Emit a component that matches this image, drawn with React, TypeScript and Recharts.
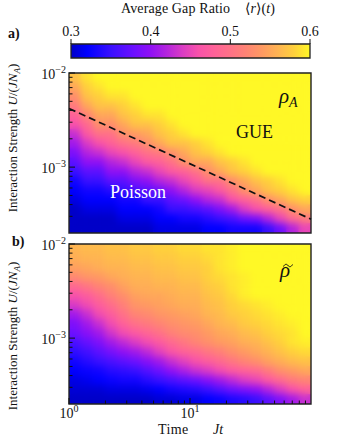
import React from 'react';
import { ComposedChart, XAxis, YAxis, ReferenceArea, ReferenceLine } from 'recharts';

const SERIF = "'Liberation Serif', 'DejaVu Serif', serif";
const INK = '#111111';
const FONT_STYLE: React.CSSProperties = { fontFamily: SERIF };

// ---- grid (bin edges, as decimal exponents) ----
const TIME_EXPONENTS = [0, 0.1, 0.2, 0.3, 0.4, 0.5, 0.6, 0.7, 0.8, 0.9, 1.0, 1.1, 1.2, 1.3, 1.4, 1.5, 1.6, 1.7, 1.8, 1.9, 2.0];
const U_EXPONENTS = [-2.0, -2.1, -2.2, -2.3, -2.4, -2.5, -2.6, -2.7, -2.8, -2.9, -3.0, -3.1, -3.2, -3.3, -3.4, -3.5, -3.6, -3.7];

// ---- tick values ----
const TIME_TICKS = [1, 2, 3, 4, 5, 6, 7, 8, 9, 10, 20, 30, 40, 50, 60, 70, 80, 90];
const U_TICKS = [3e-4, 4e-4, 5e-4, 6e-4, 7e-4, 8e-4, 9e-4, 1e-3, 2e-3, 3e-3, 4e-3, 5e-3, 6e-3, 7e-3, 8e-3, 9e-3, 1e-2];
const CBAR_TICKS = [0.3, 0.4, 0.5, 0.6];

// ---- dashed crossover line (panel a) ----
const BOUNDARY_T = [1, 100];
const BOUNDARY_U = [4.2e-3, 2.8e-4];

// ---- average gap ratio, panel a (rho_A): one array per time bin, U from high to low ----
const RHO_A: number[][] = [
  [0.57, 0.55, 0.53, 0.51, 0.48, 0.46, 0.43, 0.41, 0.39, 0.37, 0.35, 0.33, 0.32, 0.31, 0.30, 0.30, 0.30],
  [0.59, 0.58, 0.57, 0.55, 0.52, 0.49, 0.47, 0.44, 0.42, 0.40, 0.37, 0.35, 0.33, 0.32, 0.31, 0.30, 0.30],
  [0.60, 0.59, 0.58, 0.57, 0.55, 0.53, 0.50, 0.46, 0.43, 0.40, 0.37, 0.35, 0.33, 0.32, 0.31, 0.30, 0.30],
  [0.60, 0.60, 0.59, 0.57, 0.55, 0.53, 0.50, 0.48, 0.45, 0.42, 0.40, 0.37, 0.34, 0.32, 0.31, 0.30, 0.30],
  [0.60, 0.60, 0.59, 0.58, 0.57, 0.55, 0.53, 0.50, 0.46, 0.43, 0.40, 0.37, 0.35, 0.33, 0.32, 0.31, 0.30],
  [0.60, 0.60, 0.60, 0.59, 0.58, 0.57, 0.54, 0.51, 0.48, 0.45, 0.42, 0.39, 0.36, 0.33, 0.32, 0.31, 0.30],
  [0.60, 0.60, 0.60, 0.60, 0.59, 0.57, 0.55, 0.53, 0.50, 0.47, 0.43, 0.40, 0.37, 0.35, 0.32, 0.31, 0.30],
  [0.60, 0.60, 0.60, 0.60, 0.59, 0.58, 0.57, 0.55, 0.51, 0.48, 0.45, 0.42, 0.38, 0.35, 0.33, 0.32, 0.31],
  [0.60, 0.60, 0.60, 0.60, 0.60, 0.59, 0.58, 0.57, 0.53, 0.50, 0.47, 0.43, 0.40, 0.37, 0.35, 0.32, 0.31],
  [0.60, 0.60, 0.60, 0.60, 0.60, 0.60, 0.59, 0.57, 0.55, 0.53, 0.48, 0.45, 0.42, 0.38, 0.35, 0.33, 0.31],
  [0.60, 0.60, 0.60, 0.60, 0.60, 0.60, 0.60, 0.58, 0.57, 0.55, 0.50, 0.47, 0.44, 0.40, 0.36, 0.33, 0.31],
  [0.60, 0.60, 0.60, 0.60, 0.60, 0.60, 0.60, 0.59, 0.58, 0.55, 0.53, 0.50, 0.45, 0.42, 0.37, 0.34, 0.32],
  [0.60, 0.60, 0.60, 0.60, 0.60, 0.60, 0.60, 0.60, 0.59, 0.57, 0.55, 0.50, 0.47, 0.43, 0.39, 0.35, 0.32],
  [0.60, 0.60, 0.60, 0.60, 0.60, 0.60, 0.60, 0.60, 0.60, 0.58, 0.57, 0.53, 0.50, 0.46, 0.41, 0.36, 0.33],
  [0.60, 0.60, 0.60, 0.60, 0.60, 0.60, 0.60, 0.60, 0.60, 0.59, 0.58, 0.55, 0.53, 0.48, 0.44, 0.38, 0.33],
  [0.60, 0.60, 0.60, 0.60, 0.60, 0.60, 0.60, 0.60, 0.60, 0.60, 0.59, 0.57, 0.55, 0.50, 0.46, 0.39, 0.33],
  [0.60, 0.60, 0.60, 0.60, 0.60, 0.60, 0.60, 0.60, 0.60, 0.60, 0.60, 0.58, 0.57, 0.53, 0.48, 0.42, 0.35],
  [0.60, 0.60, 0.60, 0.60, 0.60, 0.60, 0.60, 0.60, 0.60, 0.60, 0.60, 0.59, 0.58, 0.55, 0.50, 0.45, 0.38],
  [0.60, 0.60, 0.60, 0.60, 0.60, 0.60, 0.60, 0.60, 0.60, 0.60, 0.60, 0.60, 0.59, 0.57, 0.53, 0.49, 0.42],
  [0.60, 0.60, 0.60, 0.60, 0.60, 0.60, 0.60, 0.60, 0.60, 0.60, 0.60, 0.60, 0.60, 0.58, 0.55, 0.51, 0.45],
];

// ---- average gap ratio, panel b (rho tilde) ----
const RHO_TILDE: number[][] = [
  [0.56, 0.555, 0.545, 0.525, 0.49, 0.46, 0.44, 0.41, 0.39, 0.38, 0.36, 0.345, 0.33, 0.32, 0.31, 0.305, 0.30],
  [0.565, 0.56, 0.55, 0.535, 0.505, 0.475, 0.455, 0.43, 0.41, 0.395, 0.375, 0.355, 0.34, 0.325, 0.315, 0.305, 0.30],
  [0.565, 0.56, 0.555, 0.54, 0.52, 0.495, 0.475, 0.455, 0.43, 0.41, 0.39, 0.37, 0.35, 0.33, 0.32, 0.305, 0.30],
  [0.57, 0.565, 0.56, 0.55, 0.53, 0.515, 0.495, 0.475, 0.455, 0.435, 0.41, 0.385, 0.36, 0.34, 0.325, 0.31, 0.30],
  [0.57, 0.565, 0.56, 0.555, 0.545, 0.53, 0.515, 0.50, 0.48, 0.455, 0.425, 0.40, 0.37, 0.345, 0.33, 0.31, 0.30],
  [0.575, 0.57, 0.565, 0.56, 0.555, 0.545, 0.535, 0.52, 0.50, 0.47, 0.44, 0.41, 0.38, 0.35, 0.33, 0.31, 0.30],
  [0.575, 0.57, 0.565, 0.56, 0.555, 0.55, 0.54, 0.525, 0.51, 0.485, 0.455, 0.425, 0.395, 0.365, 0.34, 0.315, 0.30],
  [0.58, 0.575, 0.57, 0.565, 0.56, 0.55, 0.545, 0.535, 0.52, 0.50, 0.47, 0.445, 0.41, 0.38, 0.35, 0.32, 0.305],
  [0.58, 0.575, 0.57, 0.565, 0.56, 0.555, 0.55, 0.54, 0.53, 0.515, 0.49, 0.465, 0.43, 0.40, 0.36, 0.33, 0.305],
  [0.585, 0.58, 0.575, 0.57, 0.565, 0.56, 0.555, 0.545, 0.535, 0.525, 0.505, 0.48, 0.445, 0.415, 0.37, 0.335, 0.31],
  [0.585, 0.58, 0.575, 0.57, 0.565, 0.56, 0.555, 0.55, 0.54, 0.53, 0.52, 0.49, 0.46, 0.43, 0.38, 0.34, 0.31],
  [0.59, 0.585, 0.58, 0.58, 0.575, 0.57, 0.565, 0.56, 0.55, 0.54, 0.53, 0.505, 0.475, 0.44, 0.395, 0.35, 0.32],
  [0.59, 0.59, 0.59, 0.585, 0.58, 0.575, 0.57, 0.565, 0.56, 0.55, 0.54, 0.515, 0.49, 0.455, 0.41, 0.365, 0.325],
  [0.595, 0.595, 0.595, 0.59, 0.59, 0.585, 0.58, 0.575, 0.565, 0.555, 0.545, 0.53, 0.505, 0.47, 0.425, 0.38, 0.335],
  [0.60, 0.60, 0.60, 0.595, 0.595, 0.595, 0.585, 0.58, 0.575, 0.565, 0.555, 0.54, 0.52, 0.48, 0.44, 0.39, 0.34],
  [0.60, 0.60, 0.60, 0.60, 0.60, 0.60, 0.59, 0.585, 0.58, 0.57, 0.56, 0.55, 0.53, 0.49, 0.45, 0.40, 0.35],
  [0.60, 0.60, 0.60, 0.60, 0.60, 0.60, 0.595, 0.59, 0.585, 0.58, 0.57, 0.56, 0.545, 0.51, 0.47, 0.42, 0.37],
  [0.60, 0.60, 0.60, 0.60, 0.60, 0.60, 0.60, 0.595, 0.59, 0.585, 0.58, 0.57, 0.555, 0.53, 0.49, 0.44, 0.39],
  [0.60, 0.60, 0.60, 0.60, 0.60, 0.60, 0.60, 0.60, 0.595, 0.59, 0.59, 0.58, 0.565, 0.54, 0.51, 0.46, 0.41],
  [0.60, 0.60, 0.60, 0.60, 0.60, 0.60, 0.60, 0.60, 0.60, 0.60, 0.595, 0.585, 0.57, 0.55, 0.52, 0.48, 0.43],
];

// ---- colour map ----
const CBAR_MIN = 0.3;
const CBAR_MAX = 0.6;
const CMAP: [number, string][] = [
  [0.30, '#0000c8'], [0.32, '#0000ff'], [0.35, '#3a10ff'], [0.38, '#6e10ff'], [0.40, '#9010f4'],
  [0.42, '#b424de'], [0.44, '#da3cc4'], [0.46, '#f852aa'], [0.48, '#ff6298'], [0.50, '#ff7287'],
  [0.52, '#ff8474'], [0.54, '#ff9a62'], [0.56, '#ffb452'], [0.58, '#ffd03c'], [0.60, '#fff826'],
];

const hex = (h: string) => [1, 3, 5].map((k) => parseInt(h.slice(k, k + 2), 16));
function colorFor(v: number): string {
  const c = Math.max(CBAR_MIN, Math.min(CBAR_MAX, v));
  for (let k = 0; k < CMAP.length - 1; k++) {
    const [v0, h0] = CMAP[k];
    const [v1, h1] = CMAP[k + 1];
    if (c <= v1 + 1e-9) {
      const f = (c - v0) / (v1 - v0);
      const a = hex(h0), b = hex(h1);
      const m = a.map((x, i) => Math.round(x + (b[i] - x) * f));
      return `rgb(${m[0]},${m[1]},${m[2]})`;
    }
  }
  return CMAP[CMAP.length - 1][1];
}

const TIME_EDGES = TIME_EXPONENTS.map((e) => Math.pow(10, e));
const U_EDGES = U_EXPONENTS.map((e) => Math.pow(10, e));
const T_DOMAIN: [number, number] = [TIME_EDGES[0], TIME_EDGES[TIME_EDGES.length - 1]];
const U_DOMAIN: [number, number] = [U_EDGES[U_EDGES.length - 1], U_EDGES[0]];

const isDecade = (v: number) => Math.abs(Math.log10(v) - Math.round(Math.log10(v))) < 1e-6;
const expText = (v: number) => {
  const e = Math.round(Math.log10(v));
  return e < 0 ? `\u2212${-e}` : `${e}`;
};

const makeXTick = (showLabel: boolean) => (props: any) => {
  const { x, y, payload } = props;
  const major = isDecade(payload.value);
  return (
    <g>
      <line x1={x} x2={x} y1={y} y2={y - (major ? 6 : 3.5)} stroke={INK} strokeWidth={1} />
      {showLabel && major && (
        <text x={x} y={y + 14} textAnchor="middle" style={FONT_STYLE} fontSize={14} fill={INK}>
          10<tspan dy={-6} fontSize={10}>{expText(payload.value)}</tspan>
        </text>
      )}
    </g>
  );
};

const YTick = (props: any) => {
  const { x, y, payload } = props;
  const major = isDecade(payload.value);
  return (
    <g>
      <line x1={x} x2={x + (major ? 6 : 3.5)} y1={y} y2={y} stroke={INK} strokeWidth={1} />
      {major && (
        <text x={x - 3} y={y + 6} textAnchor="end" style={FONT_STYLE} fontSize={14} fill={INK}>
          10<tspan dy={-6} fontSize={10}>{expText(payload.value)}</tspan>
        </text>
      )}
    </g>
  );
};

const CbarTick = (props: any) => {
  const { x, y, payload } = props;
  return (
    <g>
      <line x1={x} x2={x} y1={y} y2={y - 5} stroke={INK} strokeWidth={1} />
      <text x={x} y={y - 8} textAnchor="middle" style={FONT_STYLE} fontSize={14} fill={INK}>
        {Number(payload.value).toFixed(1)}
      </text>
    </g>
  );
};

// heat cells only, chart area == plot area
function HeatCells({ cols, width, height }: any) {
  return (
    <ComposedChart width={width} height={height} margin={{ top: 0, right: 0, bottom: 0, left: 0 }}>
      <XAxis type="number" scale="log" dataKey="t" domain={T_DOMAIN} allowDataOverflow hide />
      <YAxis type="number" scale="log" dataKey="u" domain={U_DOMAIN} allowDataOverflow hide />
      {cols.map((col: number[], i: number) =>
        col.map((v: number, j: number) => {
          const c = colorFor(v);
          return (
            <ReferenceArea
              key={`c${i}-${j}`}
              x1={TIME_EDGES[i]}
              x2={TIME_EDGES[i + 1]}
              y1={U_EDGES[j + 1]}
              y2={U_EDGES[j]}
              fill={c}
              fillOpacity={1}
              stroke={c}
              strokeWidth={0.8}
              ifOverflow="visible"
            />
          );
        })
      )}
    </ComposedChart>
  );
}

function HeatLayer({ cols, left, top, width, height }: any) {
  return (
    <div style={{ position: 'absolute', left, top, width, height, overflow: 'hidden' }}>
      <div style={{ position: 'absolute', left: 0, top: 0 }}>
        <HeatCells cols={cols} width={width} height={height} />
      </div>
      <div style={{ position: 'absolute', left: 0, top: 0, filter: 'blur(3.5px)' }}>
        <HeatCells cols={cols} width={width} height={height} />
      </div>
    </div>
  );
}

// axes, frame and overlay line
function Frame({ height, margin, xAxisHeight, showXLabels, boundary }: any) {
  return (
    <ComposedChart width={337} height={height} margin={margin}>
      <XAxis
        type="number"
        scale="log"
        dataKey="t"
        domain={T_DOMAIN}
        ticks={TIME_TICKS}
        interval={0}
        allowDataOverflow
        height={xAxisHeight}
        axisLine={false}
        tickLine={false}
        tickSize={0}
        tickMargin={0}
        tick={makeXTick(showXLabels)}
      />
      <YAxis
        type="number"
        scale="log"
        dataKey="u"
        domain={U_DOMAIN}
        ticks={U_TICKS}
        interval={0}
        allowDataOverflow
        width={69}
        axisLine={false}
        tickLine={false}
        tickSize={0}
        tickMargin={0}
        tick={YTick}
      />
      {boundary && (
        <ReferenceLine
          segment={[
            { x: BOUNDARY_T[0], y: BOUNDARY_U[0] },
            { x: BOUNDARY_T[1], y: BOUNDARY_U[1] },
          ]}
          stroke={INK}
          strokeWidth={1.7}
          strokeDasharray="7 4"
          ifOverflow="visible"
        />
      )}
      <ReferenceArea
        x1={T_DOMAIN[0]}
        x2={T_DOMAIN[1]}
        y1={U_DOMAIN[0]}
        y2={U_DOMAIN[1]}
        fill="none"
        fillOpacity={0}
        stroke="#222"
        strokeWidth={1.4}
        ifOverflow="visible"
      />
    </ComposedChart>
  );
}

function ColorBar() {
  return (
    <ComposedChart width={337} height={62} margin={{ top: 0, right: 27, bottom: 4, left: 71 }}>
      <XAxis
        type="number"
        dataKey="v"
        orientation="top"
        domain={[CBAR_MIN, CBAR_MAX]}
        allowDataOverflow
        ticks={CBAR_TICKS}
        interval={0}
        height={44}
        axisLine={false}
        tickLine={false}
        tickSize={0}
        tickMargin={0}
        tick={CbarTick}
      />
      <YAxis type="number" dataKey="w" hide domain={[0, 1]} allowDataOverflow />
      <ReferenceArea
        x1={CBAR_MIN}
        x2={CBAR_MAX}
        y1={0}
        y2={1}
        fill="url(#cbarGrad)"
        fillOpacity={1}
        stroke="#222"
        strokeWidth={1.3}
        ifOverflow="visible"
      />
    </ComposedChart>
  );
}

const abs = (top: number): React.CSSProperties => ({ position: 'absolute', left: 0, top });

export default function App() {
  return (
    <div style={{ position: 'absolute', left: 0, top: 0, width: 337, height: 436, background: '#fff', overflow: 'hidden' }}>
      <svg width={0} height={0} style={{ position: 'absolute' }}>
        <defs>
          <linearGradient id="cbarGrad" x1="0" x2="1" y1="0" y2="0">
            {CMAP.map(([v, h]) => (
              <stop key={v} offset={(v - CBAR_MIN) / (CBAR_MAX - CBAR_MIN)} stopColor={h} />
            ))}
          </linearGradient>
        </defs>
      </svg>
      <HeatLayer cols={RHO_A} left={69} top={73} width={242} height={160} />
      <HeatLayer cols={RHO_TILDE} left={69} top={244} width={242} height={160} />
      <div style={abs(0)}>
        <ColorBar />
      </div>
      <div style={abs(0)}>
        <Frame
          height={240}
          margin={{ top: 73, right: 26, bottom: 7, left: 0 }}
          xAxisHeight={0}
          showXLabels={false}
          boundary
        />
      </div>
      <div style={abs(0)}>
        <Frame
          height={437}
          margin={{ top: 244, right: 26, bottom: 0, left: 0 }}
          xAxisHeight={33}
          showXLabels
          boundary={false}
        />
      </div>
      <svg width={337} height={436} style={{ position: 'absolute', left: 0, top: 0, pointerEvents: 'none' }}>
        <g style={FONT_STYLE} fill={INK}>
          <text x={121} y={13} fontSize={14} textLength={109} lengthAdjust="spacing" style={FONT_STYLE}>Average Gap Ratio</text>
          <text x={245} y={13} fontSize={14} textLength={30} lengthAdjust="spacing" style={FONT_STYLE}>
            {'\u27E8'}<tspan fontStyle="italic">r</tspan>{'\u27E9'}(<tspan fontStyle="italic">t</tspan>)
          </text>
          <text x={8} y={38} fontSize={14} fontWeight="bold" style={FONT_STYLE}>a)</text>
          <text x={12} y={246} fontSize={14} fontWeight="bold" style={FONT_STYLE}>b)</text>
          <text x={0} y={0} fontSize={13} textAnchor="middle" transform="translate(17,138) rotate(-90)" style={FONT_STYLE}>
            Interaction Strength <tspan fontStyle="italic">U</tspan>/(<tspan fontStyle="italic">JN</tspan>
            <tspan fontStyle="italic" fontSize={9} dy={3}>A</tspan>
            <tspan dy={-3}>)</tspan>
          </text>
          <text x={0} y={0} fontSize={13} textAnchor="middle" transform="translate(17,336) rotate(-90)" style={FONT_STYLE}>
            Interaction Strength <tspan fontStyle="italic">U</tspan>/(<tspan fontStyle="italic">JN</tspan>
            <tspan fontStyle="italic" fontSize={9} dy={3}>A</tspan>
            <tspan dy={-3}>)</tspan>
          </text>
          <text x={158} y={434} fontSize={14} letterSpacing={0.4} style={FONT_STYLE}>Time</text>
          <text x={213} y={434} fontSize={14} fontStyle="italic" style={FONT_STYLE}>Jt</text>
          <text x={279} y={103} fontSize={21} fontStyle="italic" style={FONT_STYLE}>
            ρ<tspan fontSize={14} dy={4}>A</tspan>
          </text>
          <text x={236} y={138} fontSize={18} style={FONT_STYLE}>GUE</text>
          <text x={110} y={198} fontSize={18} fill="#ffffff" style={FONT_STYLE}>Poisson</text>
          <text x={280} y={277} fontSize={21} fontStyle="italic" style={FONT_STYLE}>ρ</text>
        </g>
        <path
          d="M 283.5 266.5 C 285 263.5, 287 264, 288 265.5 S 291 267.5, 292.5 264.5"
          fill="none"
          stroke={INK}
          strokeWidth={1}
        />
      </svg>
    </div>
  );
}
